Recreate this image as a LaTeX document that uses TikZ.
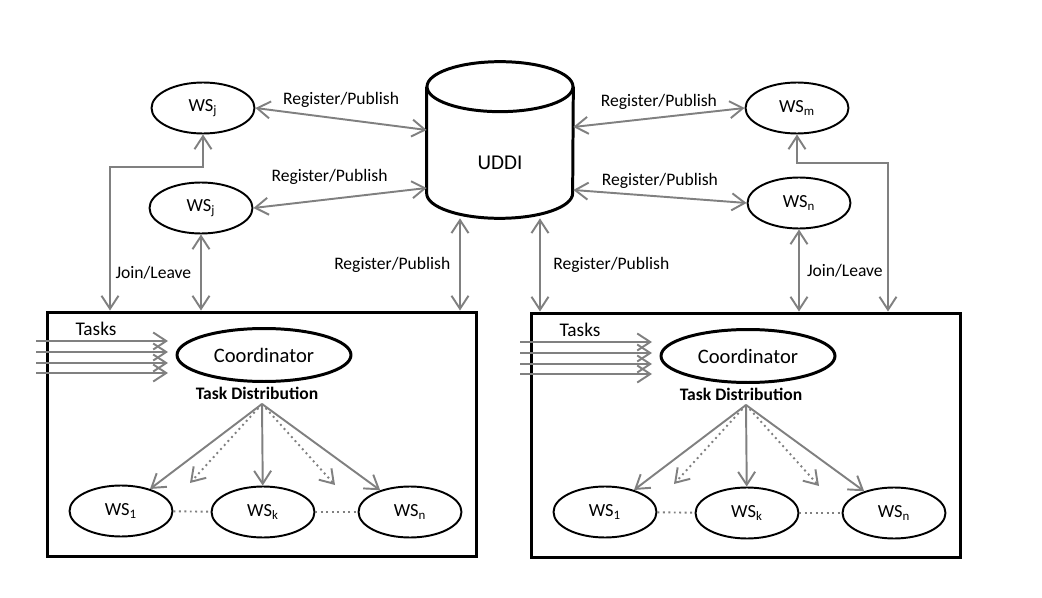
\documentclass[tikz,border=0pt]{standalone}
\usepackage{fontspec}
\setmainfont{Carlito}
\usetikzlibrary{arrows.meta, positioning, calc, shapes.geometric}

\begin{document}
\begin{tikzpicture}[
        x=0.02cm, y=-0.02cm,
        >={Straight Barb[length=2.6mm, width=3.4mm]},
        ws/.style={draw, ellipse, line width=1.1pt, minimum width=2.06cm,
                   minimum height=1.02cm, inner sep=0pt, font=\fontsize{10.5}{12}\selectfont},
        coordbox/.style={draw, ellipse, line width=1.7pt, minimum width=3.48cm,
                   minimum height=1.06cm, inner sep=0pt, font=\fontsize{11.7}{13}\selectfont},
        cluster/.style={draw, line width=1.7pt, minimum width=8.6cm, minimum height=4.9cm,
                   inner sep=0pt},
        link/.style={draw=gray, line width=1.1pt},
        weak/.style={link, dotted},
        lbl/.style={font=\fontsize{10}{12}\selectfont, inner sep=1pt}
    ]
        \useasboundingbox (0,0) rectangle (1042,598);

        % web services outside the clusters
        \node[ws] (wsA) at (203,108) {WS\textsubscript{j}};
        \node[ws] (wsB) at (201,208) {WS\textsubscript{j}};
        \node[ws] (wsM) at (797,108) {WS\textsubscript{m}};
        \node[ws] (wsN) at (799,203) {WS\textsubscript{n}};

        % UDDI registry
        \node[minimum width=2.92cm, minimum height=3.12cm, inner sep=0pt] (uddi) at (500,140) {};
        \draw[line width=1.7pt] ([yshift=-0.5cm]uddi.north west) -- ([yshift=0.5cm]uddi.south west)
            arc[start angle=180, end angle=360, x radius=1.46cm, y radius=0.5cm]
            -- ([yshift=-0.5cm]uddi.north east);
        \draw[line width=1.7pt] ([yshift=-0.5cm]uddi.north) ellipse [x radius=1.46cm, y radius=0.5cm];
        \node[font=\fontsize{12}{14}\selectfont] (uddiLabel) at (500,163) {UDDI};

        % two clusters
        \foreach \s/\d/\c in {0/0/L, 484/1/R} {
            \begin{scope}[shift={(\s,\d)}]
                \node[cluster] (box\c) at (262,434.5) {};
                \node[coordbox] (coord\c) at (264,355) {Coordinator};
                \node[font=\fontsize{11}{13}\selectfont, inner sep=0pt] (tasks\c) at (96,329) {Tasks};
                \node[font=\fontsize{10}{12}\selectfont\bfseries, inner sep=0pt] (dist\c) at (257,393) {Task Distribution};
                \coordinate (fork\c) at (262,404);
                \node[ws] (wsOne\c) at (121,511) {WS\textsubscript{1}};
                \node[ws] (wsK\c)   at (263,512) {WS\textsubscript{k}};
                \node[ws] (wsLast\c) at (410,512) {WS\textsubscript{n}};

                \foreach \ty in {341,352,363,373}
                    \draw[link, ->] (36,\ty) -- (168,\ty);

                \draw[link, ->] (fork\c) -- (wsOne\c);
                \draw[weak, ->] (fork\c) -- ++(-72,79);
                \draw[link, ->] (fork\c) -- (wsK\c);
                \draw[weak, ->] (fork\c) -- ++(73,81);
                \draw[link, ->] (fork\c) -- (wsLast\c);
                \draw[weak] (wsOne\c) -- (wsK\c);
                \draw[weak] (wsK\c) -- (wsLast\c);
            \end{scope}
        }

        % registering with UDDI
        \draw[link, <->] (wsA.east) -- ([yshift=0.2cm]uddi.west)
            node[lbl, midway, above=5pt] {Register/Publish};
        \draw[link, <->] (wsB.east) -- ([yshift=-0.96cm]uddi.west)
            node[lbl, midway, above=6pt, xshift=-6pt] {Register/Publish};
        \draw[link, <->] ([yshift=0.26cm]uddi.east) -- (wsM.west)
            node[lbl, midway, above=3pt] {Register/Publish};
        \draw[link, <->] ([yshift=-1cm]uddi.east) -- (wsN.west)
            node[lbl, midway, above=3pt] {Register/Publish};
        \draw[link, <->] ([xshift=-0.8cm]uddi.south) -- (460,0 |- boxL.north)
            node[lbl, midway, left=4pt] {Register/Publish};
        \draw[link, <->] ([xshift=0.8cm]uddi.south) -- (540,0 |- boxR.north)
            node[lbl, midway, right=6pt] {Register/Publish};

        % joining and leaving the clusters
        \draw[link, <->] (wsA.south) |- (110,167) -- (110,0 |- boxL.north);
        \draw[link, <->] (wsB.south) -- (wsB.south |- boxL.north)
            node[lbl, midway, left=4pt] {Join/Leave};
        \draw[link, <->] (wsN.south) -- (wsN.south |- boxR.north)
            node[lbl, midway, right=3pt] {Join/Leave};
        \draw[link, <->] (wsM.south) |- (888,163) -- (888,0 |- boxR.north);
    \end{tikzpicture}
\end{document}
